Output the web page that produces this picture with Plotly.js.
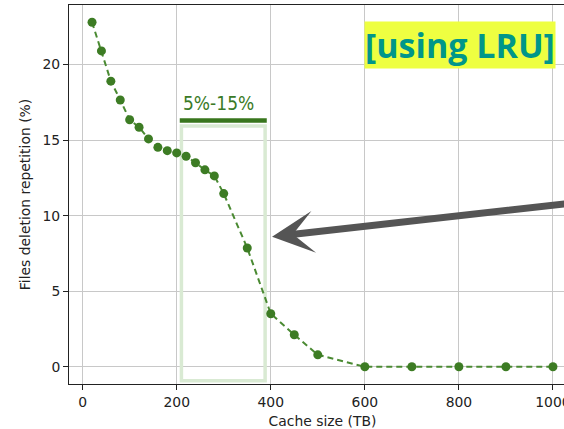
<!DOCTYPE html>
<html>
<head>
<meta charset="utf-8">
<script src="https://cdn.plot.ly/plotly-3.0.1.min.js"></script>
<style>
html, body { margin: 0; padding: 0; overflow: hidden; background: #fff; width: 564px; height: 429px; }
#chart { width: 600px; height: 429px; }
</style>
</head>
<body>
<div id="chart"></div>
<script>
const cacheSizeTB = [20, 40, 60, 80, 100, 120, 140, 160, 180, 200, 220, 240, 260, 280, 300, 350, 400, 450, 500, 600, 700, 800, 900, 1000];
const repetitionPct = [22.8, 20.9, 18.9, 17.65, 16.35, 15.85, 15.08, 14.52, 14.3, 14.15, 13.93, 13.5, 13.03, 12.63, 11.46, 7.86, 3.51, 2.12, 0.79, 0, 0, 0, 0, 0];
const xTicks = [0, 200, 400, 600, 800, 1000];
const yTicks = [0, 5, 10, 15, 20];
const rangeLabel = "5%-15%";
const rangeBox = [210, 388];
const policyLabel = "[using LRU]";

const tickFont = {family: "DejaVu Sans", size: 13.9, color: "#222"};

const trace = {
  x: cacheSizeTB, y: repetitionPct, type: "scatter", mode: "lines+markers",
  line: {color: "#4a8a32", width: 2, dash: "6px,4px"},
  marker: {color: "#3d7c24", size: 9},
  cliponaxis: false, hoverinfo: "skip"
};

const layout = {
  width: 600, height: 429,
  margin: {l: 69, r: 24, t: 5, b: 45},
  paper_bgcolor: "#fff", plot_bgcolor: "#fff",
  showlegend: false,
  xaxis: {
    range: [-29, 1049], tickvals: xTicks, ticktext: xTicks.map(String),
    ticks: "outside", ticklen: 5, tickcolor: "#222", tickwidth: 1,
    showgrid: true, gridcolor: "#c8c8c8", gridwidth: 1, zeroline: false,
    showline: true, linecolor: "#222", linewidth: 1, mirror: true,
    tickfont: tickFont,
    title: {text: "Cache size (TB)", font: tickFont, standoff: 7}
  },
  yaxis: {
    range: [-1.14, 23.94], tickvals: yTicks, ticktext: yTicks.map(String),
    ticks: "outside", ticklen: 5, tickcolor: "#222", tickwidth: 1,
    showgrid: true, gridcolor: "#c8c8c8", gridwidth: 1, zeroline: false,
    showline: true, linecolor: "#222", linewidth: 1, mirror: false,
    tickfont: tickFont,
    title: {text: "Files deletion repetition (%)", font: tickFont, standoff: 8}
  },
  shapes: [
    {type: "rect", xref: "x", yref: "y", x0: rangeBox[0], x1: rangeBox[1], y0: -0.92, y1: 15.94,
     line: {color: "#d9ead3", width: 3.5}, fillcolor: "rgba(0,0,0,0)", layer: "between"},
    {type: "line", xref: "x", yref: "y", x0: rangeBox[0] - 3.5, x1: rangeBox[1] + 3.5, y0: 16.29, y1: 16.29,
     line: {color: "#38761d", width: 4.5}, layer: "above"}
  ],
  annotations: [
    {text: rangeLabel, xref: "x", yref: "y", x: (rangeBox[0] + rangeBox[1]) / 2 - 10, y: 17.46,
     showarrow: false, font: {family: "DejaVu Sans Condensed, DejaVu Sans", stretch: "condensed", size: 19, color: "#3a7a26"}},
    {text: "<b>" + policyLabel + "</b>", xref: "x", yref: "y", x: 803, y: 21.3,
     showarrow: false, bgcolor: "#eeff41", borderpad: 0,
     font: {family: "Open Sans", size: 34, color: "#00968a"}},
    {text: "", xref: "x", yref: "y", x: 402.7, y: 8.61, axref: "x", ayref: "y", ax: 1100, ay: 11.04,
     showarrow: true, arrowhead: 3, arrowsize: 1.0, arrowwidth: 7, arrowcolor: "#555555", standoff: 0}
  ]
};

Plotly.newPlot("chart", [trace], layout, {staticPlot: true, displayModeBar: false});
</script>
</body>
</html>
